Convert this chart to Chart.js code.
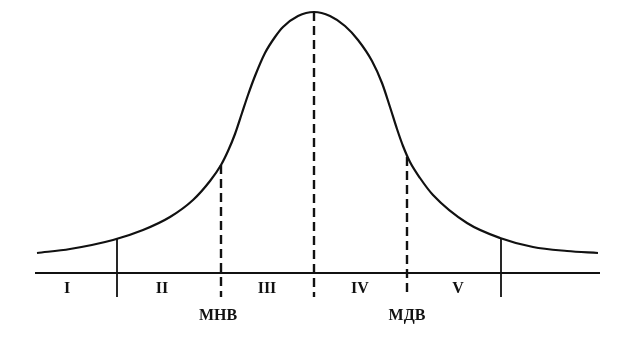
<!DOCTYPE html>
<html>
<head>
<meta charset="utf-8">
<script src="https://cdn.jsdelivr.net/npm/chart.js@4"></script>
<style>
html,body{margin:0;padding:0;background:#fff;}
#wrap{width:623px;height:339px;position:relative;}
</style>
</head>
<body>
<div id="wrap"><canvas id="c" width="623" height="339"></canvas></div>
<script>
// Curve: horizontal position and height above the baseline
const curveX = [37, 70, 113, 143, 170, 193, 210, 221, 228, 235, 242, 248, 255, 265, 275, 283, 298, 314, 330, 345, 358, 372, 382, 390, 397, 403, 410, 420, 433, 467, 500, 533, 567, 598];
const curveY = [20, 24, 33, 43, 56, 73, 92, 108, 122, 139, 160, 178, 197, 220, 236, 246, 257, 261, 257, 247, 233, 212, 190, 166, 144, 127, 111, 95, 78, 50, 35, 26, 22, 20];

// Baseline extent
const baselineX = [35, 600];
const baselineY = [0, 0];

// Vertical dividers: position, top height, whether dashed
const dividerX = [117, 221, 314, 407, 501];
const dividerTop = [34, 108, 261, 116, 35];
const dividerDashed = [false, true, true, true, false];
const dividerBottom = -24;

// Zone labels
const zoneLabels = ["I", "II", "III", "IV", "V"];
const zoneX = [67, 162, 267, 360, 458];
const zoneY = -16;

// Marker labels
const markerLabels = ["МНВ", "МДВ"];
const markerX = [218, 407];
const markerY = -43;

const pts = (xs, ys) => xs.map((x, i) => ({x: x, y: ys[i]}));

const datasets = [];
datasets.push({
  data: pts(curveX, curveY),
  borderColor: '#111', borderWidth: 2.2, pointRadius: 0,
  showLine: true, cubicInterpolationMode: 'monotone', fill: false
});
datasets.push({
  data: pts(baselineX, baselineY),
  borderColor: '#111', borderWidth: 2, pointRadius: 0, showLine: true, fill: false
});
dividerX.forEach((x, i) => {
  datasets.push({
    data: [{x: x, y: dividerTop[i]}, {x: x, y: dividerBottom}],
    borderColor: '#111', borderWidth: dividerDashed[i] ? 2.4 : 1.8,
    borderDash: dividerDashed[i] ? [9, 5] : [],
    pointRadius: 0, showLine: true, fill: false
  });
});

const labelPlugin = {
  id: 'labels',
  afterDatasetsDraw(chart) {
    const ctx = chart.ctx, xs = chart.scales.x, ys = chart.scales.y;
    ctx.save();
    ctx.fillStyle = '#111';
    ctx.textAlign = 'center';
    ctx.textBaseline = 'middle';
    ctx.font = 'bold 16px "Liberation Serif", "DejaVu Serif", serif';
    zoneLabels.forEach((t, i) => ctx.fillText(t, xs.getPixelForValue(zoneX[i]), ys.getPixelForValue(zoneY)));
    markerLabels.forEach((t, i) => ctx.fillText(t, xs.getPixelForValue(markerX[i]), ys.getPixelForValue(markerY)));
    ctx.restore();
  }
};

new Chart(document.getElementById('c'), {
  type: 'scatter',
  data: {datasets: datasets},
  options: {
    responsive: false,
    animation: false,
    layout: {padding: 0},
    plugins: {legend: {display: false}, tooltip: {enabled: false}},
    scales: {
      x: {type: 'linear', min: 0, max: 623, display: false},
      y: {type: 'linear', min: -66, max: 273, display: false}
    }
  },
  plugins: [labelPlugin]
});
</script>
</body>
</html>
